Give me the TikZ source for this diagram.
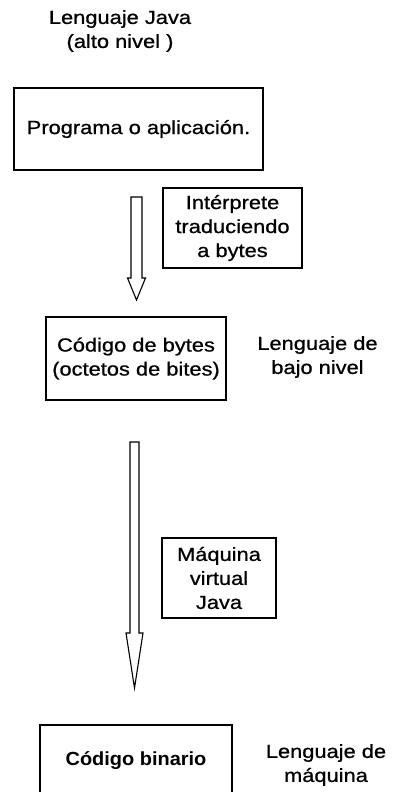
\documentclass[tikz,border=0pt]{standalone}
\usepackage{fontspec}
\setmainfont{Liberation Sans}[FakeStretch=1.15, FakeBold=0.8]
\newfontfamily\binfont{Liberation Sans}[FakeStretch=1.05]
\usetikzlibrary{calc,positioning}

% hollow block arrow: start, tip, shaft half width, head half width, head length
\newcommand{\hollowarrow}[5]{%
  \draw[hollow] ($(#1)+(-#3,0)$) -- ($(#2)+(-#3,-#5)$) -- ($(#2)+(-#4,-#5)$) -- (#2)
    -- ($(#2)+(#4,-#5)$) -- ($(#2)+(#3,-#5)$) -- ($(#1)+(#3,0)$) -- cycle;}

\begin{document}
\begin{tikzpicture}[
  x=1pt, y=-1pt,
  every node/.style={font=\fontsize{19}{24}\selectfont},
  box/.style={draw, line width=1.1pt, align=center, inner sep=0pt},
  lab/.style={align=center, inner sep=0pt},
  hollow/.style={draw, line width=1.1pt, line join=miter}
]
  \clip (0,0) rectangle (399,792);

  % top: source
  \node[lab] (title) at (120,31) {Lenguaje Java\\(alto nivel )};
  \node[box, minimum width=249, minimum height=82] (prog) at (138.5,129) {Programa o aplicación.};
  \node[box, minimum width=139, minimum height=80] (interp) at (232.5,228) {Intérprete\\traduciendo\\a bytes};

  % middle: bytecode
  \node[box, minimum width=180, minimum height=83] (bytes) at (136,358.5) {Código de bytes\\(octetos de bites)};
  \node[lab] (bajo) at (317.5,357) {Lenguaje de\\bajo nivel};
  \node[box, minimum width=114, minimum height=80] (jvm) at (219,578) {Máquina\\virtual\\Java};

  % bottom: machine code
  \node[box, minimum width=192, minimum height=72] (bin) at (136,761) {\binfont\bfseries Código binario};
  \node[lab] (maq) at (326,765) {Lenguaje de\\máquina};

  % arrows
  \coordinate (a1s) at (136.5,197);
  \coordinate (a1e) at (136.5,300);
  \coordinate (a2s) at (134.5,442);
  \coordinate (a2e) at (134.5,688);
  \hollowarrow{a1s}{a1e}{5.5}{9}{22}
  \hollowarrow{a2s}{a2e}{4.5}{8.5}{55}
\end{tikzpicture}
\end{document}
